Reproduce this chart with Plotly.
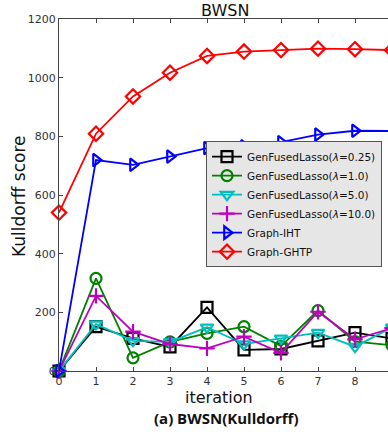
import plotly.graph_objects as go

iterations = [0, 1, 2, 3, 4, 5, 6, 7, 8, 9]
gfl_025 = [0, 151, 111, 82, 217, 72, 75, 103, 131, 111]
gfl_1 = [0, 316, 45, 99, 128, 151, 85, 206, 100, 88]
gfl_5 = [0, 160, 103, 99, 149, 92, 111, 131, 83, 149]
gfl_10 = [0, 256, 134, 92, 77, 117, 62, 202, 108, 146]
graph_iht = [0, 719, 703, 731, 760, 766, 780, 806, 819, 818]
graph_ghtp = [540, 809, 936, 1017, 1074, 1089, 1094, 1099, 1097, 1094]

series = [
    ("GenFusedLasso(<i>λ</i>=0.25)", gfl_025, "#000000", "square-open"),
    ("GenFusedLasso(<i>λ</i>=1.0)", gfl_1, "#008000", "circle-open"),
    ("GenFusedLasso(<i>λ</i>=5.0)", gfl_5, "#00bfbf", "triangle-down-open"),
    ("GenFusedLasso(<i>λ</i>=10.0)", gfl_10, "#bf00bf", "cross-thin-open"),
    ("Graph-IHT", graph_iht, "#0000ff", "triangle-right-open"),
    ("Graph-GHTP", graph_ghtp, "#ff0000", "diamond-open"),
]

fig = go.Figure()
for name, vals, color, sym in series:
    fig.add_trace(go.Scatter(
        x=iterations, y=vals, name=name, mode="lines+markers",
        line=dict(color=color, width=1.8),
        marker=dict(symbol=sym, size=11, color=color,
                    line=dict(color=color, width=2.2)),
        cliponaxis=False,
    ))

# figure is slightly wider than the 388px window: the right edge is cropped as in the reference
W, H = 392, 432
L, T, B = 59, 19, 61
fig.update_layout(
    width=W, height=H,
    margin=dict(l=L, r=0, t=T, b=B, pad=0),
    paper_bgcolor="white", plot_bgcolor="white",
    font=dict(family="DejaVu Sans", color="#222222", size=11),
    showlegend=True,
    legend=dict(
        x=(206 - L) / (W - L), y=0.653, xanchor="left", yanchor="top",
        bgcolor="#e6e6e6", bordercolor="#555555", borderwidth=1,
        font=dict(family="DejaVu Sans", size=10.5, color="#111111"),
        tracegroupgap=0, itemwidth=30,
    ),
    xaxis=dict(
        range=[0, 9], tickmode="array", tickvals=iterations,
        ticks="inside", ticklen=4, tickcolor="#444444",
        showline=True, linecolor="#444444", linewidth=1, mirror="ticks",
        showgrid=False, zeroline=False,
        tickfont=dict(size=11, color="#333333"),
    ),
    yaxis=dict(
        range=[0, 1200], tickmode="array",
        tickvals=[0, 200, 400, 600, 800, 1000, 1200],
        ticks="inside", ticklen=4, tickcolor="#444444",
        showline=True, linecolor="#444444", linewidth=1, mirror="ticks",
        showgrid=False, zeroline=False,
        tickfont=dict(size=11, color="#333333"),
    ),
)

pw = W - L
def px_to_paper_x(px):
    return (px - L) / pw

ph = H - T - B
def py_to_paper_y(py):
    return (H - B - py) / ph

fig.add_annotation(text="BWSN", x=px_to_paper_x(225), y=py_to_paper_y(10.5),
                   xref="paper", yref="paper", showarrow=False,
                   xanchor="center", yanchor="middle",
                   font=dict(family="DejaVu Sans", size=16, color="#111111"))
fig.add_annotation(text="iteration", x=px_to_paper_x(219), y=py_to_paper_y(397.5),
                   xref="paper", yref="paper", showarrow=False,
                   xanchor="center", yanchor="middle",
                   font=dict(family="DejaVu Sans", size=16, color="#111111"))
fig.add_annotation(text="<b>(a) BWSN(Kulldorff)</b>", x=px_to_paper_x(227), y=py_to_paper_y(418),
                   xref="paper", yref="paper", showarrow=False,
                   xanchor="center", yanchor="middle",
                   font=dict(family="Open Sans", size=15, color="#111111"))
fig.add_annotation(text="Kulldorff score", x=px_to_paper_x(19), y=py_to_paper_y(196),
                   xref="paper", yref="paper", showarrow=False, textangle=-90,
                   xanchor="center", yanchor="middle",
                   font=dict(family="DejaVu Sans", size=17, color="#111111"))

fig.write_html(
    "out.html",
    config={"displayModeBar": False},
    post_script="document.body.style.margin='0';document.documentElement.style.overflow='hidden';document.body.style.overflow='hidden';",
)
